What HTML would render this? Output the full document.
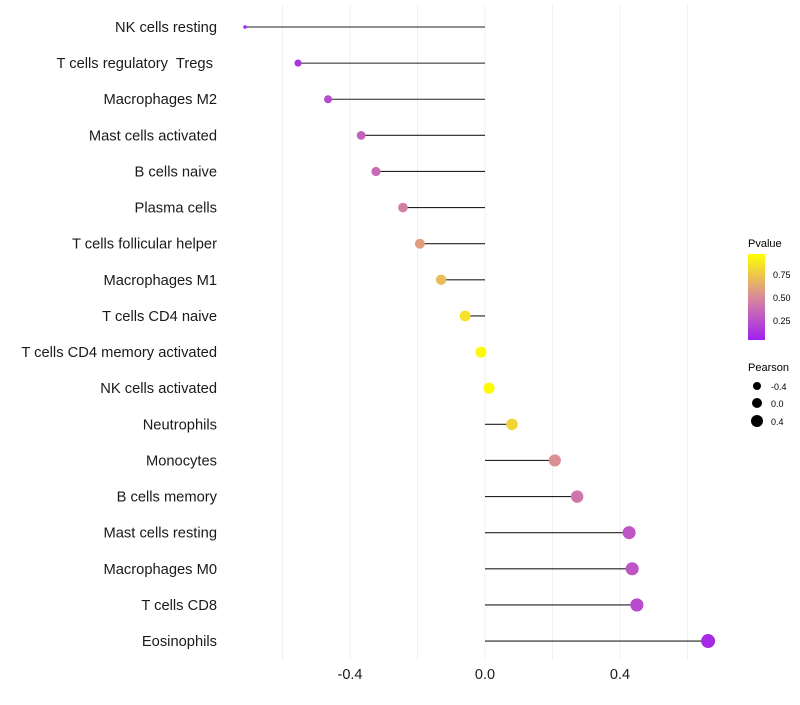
<!DOCTYPE html>
<html><head><meta charset="utf-8"><style>
body{margin:0;background:#fff;font-family:"Liberation Sans",sans-serif}
text{white-space:pre}
</style></head><body>
<svg id="chart" width="800" height="700" xmlns="http://www.w3.org/2000/svg">
<defs><linearGradient id="pg" x1="0" y1="1" x2="0" y2="0">
<stop offset="0" stop-color="#A020F0"/><stop offset="0.5" stop-color="#D98A9A"/><stop offset="1" stop-color="#FFFF00"/></linearGradient></defs>
<g id="grid"></g><g id="marks"></g><g id="labels"></g>
<g>
<text x="748" y="247" font-size="11">Pvalue</text>
<rect x="748" y="254" width="17" height="86" fill="url(#pg)"/>
<text x="773" y="278" font-size="9">0.75</text>
<text x="773" y="301" font-size="9">0.50</text>
<text x="773" y="324" font-size="9">0.25</text>
</g>
<g>
<text x="748" y="371" font-size="11">Pearson</text>
<circle cx="757" cy="386" r="4" fill="#000"/>
<circle cx="757" cy="403" r="5" fill="#000"/>
<circle cx="757" cy="421" r="6" fill="#000"/>
<text x="771" y="390" font-size="9">-0.4</text>
<text x="771" y="407" font-size="9">0.0</text>
<text x="771" y="425" font-size="9">0.4</text>
</g>
</svg>
<script>
const categories=["NK cells resting","T cells regulatory  Tregs ","Macrophages M2","Mast cells activated","B cells naive","Plasma cells","T cells follicular helper","Macrophages M1","T cells CD4 naive","T cells CD4 memory activated","NK cells activated","Neutrophils","Monocytes","B cells memory","Mast cells resting","Macrophages M0","T cells CD8","Eosinophils"];
const pearson=[-0.711,-0.554,-0.465,-0.367,-0.323,-0.243,-0.193,-0.130,-0.059,-0.012,0.012,0.080,0.207,0.273,0.427,0.436,0.450,0.661];
const pvalues=[0.02,0.1,0.2,0.3,0.35,0.45,0.58,0.72,0.88,0.98,0.98,0.82,0.52,0.4,0.25,0.25,0.2,0.05];
const xTicks=[-0.4,0.0,0.4];
const xTickLabels=["-0.4","0.0","0.4"];
const gridVals=[-0.6,-0.4,-0.2,0.2,0.4,0.6];
const NS="http://www.w3.org/2000/svg";
const xs=v=>485+v*337.5;
const ys=i=>27+i*36.12;
function lerp(a,b,t){return a.map((c,k)=>Math.round(c+(b[k]-c)*t));}
function col(p){const A=[160,32,240],M=[217,138,154],B=[255,255,0];const c=p<0.5?lerp(A,M,p/0.5):lerp(M,B,(p-0.5)/0.5);return `rgb(${c})`;}
const mn=Math.min(...pearson),mx=Math.max(...pearson);
const rs=v=>1.8+5.2*Math.sqrt((v-mn)/(mx-mn||1));
function mk(tag,attrs,parent){const e=document.createElementNS(NS,tag);for(const k in attrs)e.setAttribute(k,attrs[k]);parent.appendChild(e);return e;}
const grid=document.getElementById('grid'),marks=document.getElementById('marks'),labels=document.getElementById('labels');
gridVals.forEach(v=>{const l=mk('line',{x1:xs(v),x2:xs(v),y1:5,y2:660,stroke:'#f0f0f0','stroke-width':1},grid);

});
mk('line',{x1:xs(0),x2:xs(0),y1:5,y2:660,stroke:'#f0f0f0','stroke-width':1},grid);
xTicks.forEach((v,i)=>{const t=mk('text',{x:xs(v),y:679,'font-size':14.5,'text-anchor':'middle',fill:'#1a1a1a'},labels);t.textContent=xTickLabels[i];

});
categories.forEach((c,i)=>{const y=ys(i);
const t=mk('text',{x:217,y:y+5,'font-size':14.7,'text-anchor':'end',fill:'#1a1a1a'},labels);t.textContent=c;


const l=mk('line',{x1:xs(0),x2:xs(pearson[i]),y1:y,y2:y,stroke:'#222','stroke-width':1.1},marks);


const d=mk('circle',{cx:xs(pearson[i]),cy:y,r:rs(pearson[i]),fill:col(pvalues[i])},marks);


});
</script>
</body></html>
